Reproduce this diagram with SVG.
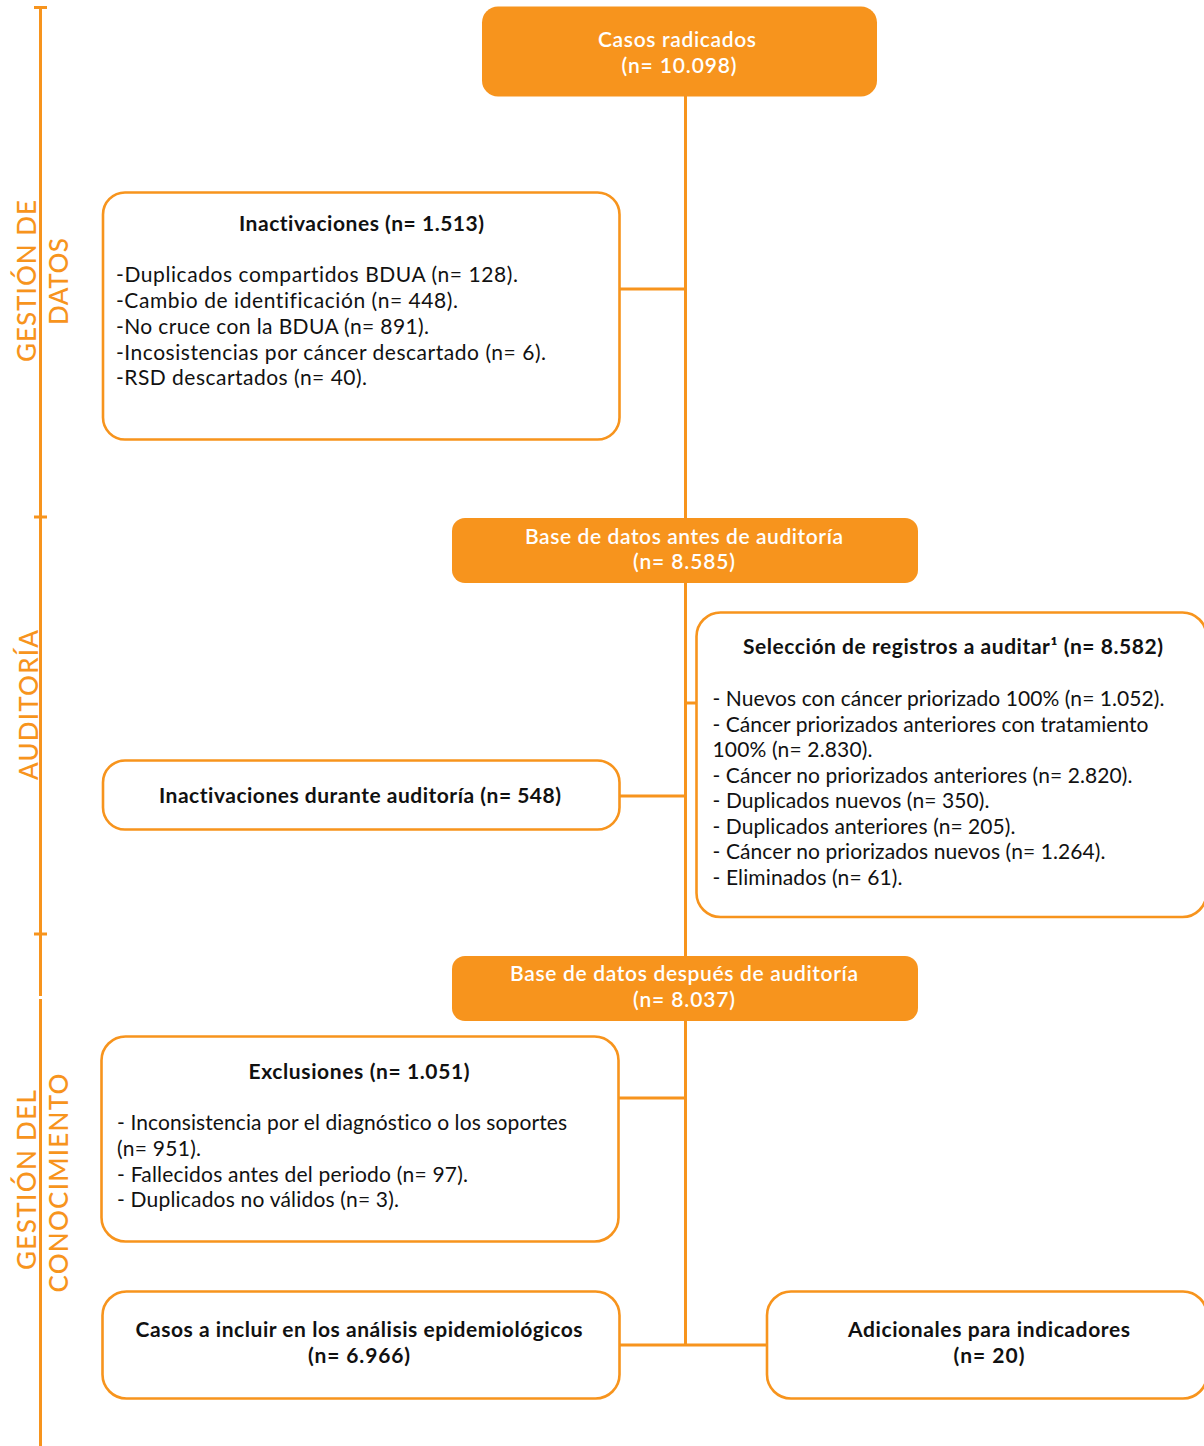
<svg xmlns="http://www.w3.org/2000/svg" width="1204" height="1446" viewBox="0 0 1204 1446">
<style>
text{font-variant-ligatures:none;font-feature-settings:"liga" 0,"dlig" 0}
.ob{fill:#F7941D;stroke:none}
.wb{fill:#FFFFFF;stroke:#F7941D;stroke-width:2.6}
.cn{stroke:#F7941D;stroke-width:3;fill:none}
.tl{stroke:#F7941D;stroke-width:3;fill:none}
.ot{font-family:Lato,"Open Sans","Liberation Sans",sans-serif;font-size:21px;font-weight:600;fill:#FFFFFF;text-anchor:middle}
.tt{font-family:Lato,"Open Sans","Liberation Sans",sans-serif;font-size:21px;font-weight:700;fill:#111111;text-anchor:middle}
.bt{font-family:Lato,"Open Sans","Liberation Sans",sans-serif;font-size:21px;font-weight:400;fill:#111111}
.sec{font-family:Lato,"Open Sans","Liberation Sans",sans-serif;font-size:26px;font-weight:500;fill:#F7941D;text-anchor:middle}
</style>
<rect width="1204" height="1446" fill="#FFFFFF"/>
<g id="timeline">
<line class="tl" x1="40.5" y1="7" x2="40.5" y2="996"/>
<line class="tl" x1="40.5" y1="999" x2="40.5" y2="1446"/>
<line class="tl" x1="34" y1="7.5" x2="47" y2="7.5"/>
<line class="tl" x1="34" y1="517" x2="47" y2="517"/>
<line class="tl" x1="34" y1="934" x2="47" y2="934"/>
</g>
<g id="sec-gestion-datos">
<text class="sec" transform="translate(35.5,281) rotate(-90)" textLength="162">GESTIÓN DE</text>
<text class="sec" transform="translate(67.5,281.5) rotate(-90)" textLength="87">DATOS</text>
</g>
<g id="sec-auditoria">
<text class="sec" transform="translate(37.5,705) rotate(-90)" textLength="150">AUDITORÍA</text>
</g>
<g id="sec-gestion-conocimiento">
<text class="sec" transform="translate(35.5,1180) rotate(-90)" textLength="180">GESTIÓN DEL</text>
<text class="sec" transform="translate(67.5,1183) rotate(-90)" textLength="219">CONOCIMIENTO</text>
</g>
<g id="connectors">
<line class="cn" x1="685.5" y1="96" x2="685.5" y2="1345"/>
<line class="cn" x1="619" y1="289" x2="685.5" y2="289"/>
<line class="cn" x1="685.5" y1="703" x2="697" y2="703"/>
<line class="cn" x1="619" y1="796" x2="685.5" y2="796"/>
<line class="cn" x1="618" y1="1098" x2="685.5" y2="1098"/>
<line class="cn" x1="619" y1="1345" x2="767" y2="1345"/>
</g>
<g id="casos-radicados">
<rect class="ob" x="482" y="6.5" width="395" height="90" rx="16"/>
<text class="ot" x="677" y="47" textLength="158">Casos radicados</text>
<text class="ot" x="679" y="73" textLength="115">(n= 10.098)</text>
</g>
<g id="inactivaciones">
<rect class="wb" x="103" y="192.5" width="516.5" height="247" rx="22"/>
<text class="tt" x="361.5" y="231" textLength="245">Inactivaciones (n= 1.513)</text>
<text class="bt" x="116" y="282" textLength="402">-Duplicados compartidos BDUA (n= 128).</text>
<text class="bt" x="116" y="308" textLength="342">-Cambio de identificación (n= 448).</text>
<text class="bt" x="116" y="334" textLength="313">-No cruce con la BDUA (n= 891).</text>
<text class="bt" x="116" y="359.5" textLength="430">-Incosistencias por cáncer descartado (n= 6).</text>
<text class="bt" x="116" y="385" textLength="251">-RSD descartados (n= 40).</text>
</g>
<g id="base-antes">
<rect class="ob" x="452" y="518" width="466" height="65" rx="13"/>
<text class="ot" x="684" y="544" textLength="318">Base de datos antes de auditoría</text>
<text class="ot" x="684" y="569" textLength="102">(n= 8.585)</text>
</g>
<g id="seleccion">
<rect class="wb" x="696.5" y="612.5" width="510" height="304.5" rx="24"/>
<text class="tt" x="953" y="654" textLength="420">Selección de registros a auditar¹ (n= 8.582)</text>
<text class="bt" x="712.5" y="706" textLength="452">- Nuevos con cáncer priorizado 100% (n= 1.052).</text>
<text class="bt" x="712.5" y="731.5" textLength="436">- Cáncer priorizados anteriores con tratamiento</text>
<text class="bt" x="712.5" y="757" textLength="160">100% (n= 2.830).</text>
<text class="bt" x="712.5" y="782.5" textLength="420">- Cáncer no priorizados anteriores (n= 2.820).</text>
<text class="bt" x="712.5" y="808" textLength="277">- Duplicados nuevos (n= 350).</text>
<text class="bt" x="712.5" y="834" textLength="303">- Duplicados anteriores (n= 205).</text>
<text class="bt" x="712.5" y="859" textLength="393">- Cáncer no priorizados nuevos (n= 1.264).</text>
<text class="bt" x="712.5" y="885" textLength="190">- Eliminados (n= 61).</text>
</g>
<g id="inactivaciones-auditoria">
<rect class="wb" x="103" y="760.5" width="516.5" height="69" rx="22"/>
<text class="tt" x="360" y="803" textLength="402">Inactivaciones durante auditoría (n= 548)</text>
</g>
<g id="base-despues">
<rect class="ob" x="452" y="956" width="466" height="65" rx="13"/>
<text class="ot" x="684" y="981" textLength="348">Base de datos después de auditoría</text>
<text class="ot" x="684" y="1006.5" textLength="102">(n= 8.037)</text>
</g>
<g id="exclusiones">
<rect class="wb" x="101.5" y="1036.5" width="517" height="205" rx="24"/>
<text class="tt" x="359" y="1079" textLength="221">Exclusiones (n= 1.051)</text>
<text class="bt" x="117" y="1130" textLength="450">- Inconsistencia por el diagnóstico o los soportes</text>
<text class="bt" x="117" y="1156" textLength="84">(n= 951).</text>
<text class="bt" x="117" y="1181.5" textLength="351">- Fallecidos antes del periodo (n= 97).</text>
<text class="bt" x="117" y="1206.5" textLength="282">- Duplicados no válidos (n= 3).</text>
</g>
<g id="casos-incluir">
<rect class="wb" x="102.5" y="1291.5" width="517" height="107" rx="24"/>
<text class="tt" x="359" y="1337" textLength="447">Casos a incluir en los análisis epidemiológicos</text>
<text class="tt" x="359" y="1362.5" textLength="102">(n= 6.966)</text>
</g>
<g id="adicionales">
<rect class="wb" x="767" y="1291.5" width="440" height="107" rx="24"/>
<text class="tt" x="989" y="1337" textLength="282">Adicionales para indicadores</text>
<text class="tt" x="989" y="1362.5" textLength="71">(n= 20)</text>
</g>
</svg>
